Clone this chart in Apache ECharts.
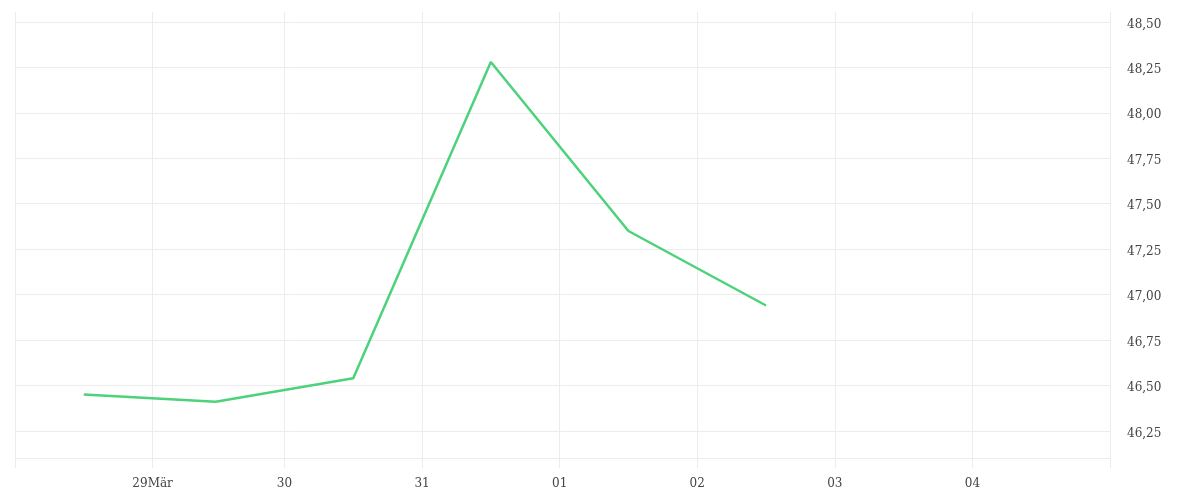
<!DOCTYPE html>
<html>
<head>
<meta charset="utf-8">
<script src="https://cdn.jsdelivr.net/npm/echarts@6/dist/echarts.min.js"></script>
<style>
  html, body { margin: 0; padding: 0; background: #fff; }
  #main { width: 1200px; height: 500px; }
</style>
</head>
<body>
<div id="main"></div>
<script>
// times are local (Europe/Berlin), DST starts 29 Mar 2020
var times = [
    '2020-03-28T12:00:00+01:00',
    '2020-03-29T12:00:00+02:00',
    '2020-03-30T12:00:00+02:00',
    '2020-03-31T12:00:00+02:00',
    '2020-04-01T12:00:00+02:00',
    '2020-04-02T12:00:00+02:00'
];
var prices = [46.45, 46.41, 46.54, 48.28, 47.35, 46.94];

var xStart = '2020-03-28T00:00:00+01:00';
var xEnd = '2020-04-05T00:00:00+02:00';
var xTickTimes = [
    '2020-03-28T00:00:00+01:00',
    '2020-03-29T00:00:00+01:00',
    '2020-03-30T00:00:00+02:00',
    '2020-03-31T00:00:00+02:00',
    '2020-04-01T00:00:00+02:00',
    '2020-04-02T00:00:00+02:00',
    '2020-04-03T00:00:00+02:00',
    '2020-04-04T00:00:00+02:00',
    '2020-04-05T00:00:00+02:00'
];
var xTickLabels = ['', '29Mär', '30', '31', '01', '02', '03', '04', ''];

var yGridValues = [46.1, 46.25, 46.5, 46.75, 47, 47.25, 47.5, 47.75, 48, 48.25, 48.5];
var yLabelValues = [46.25, 46.5, 46.75, 47, 47.25, 47.5, 47.75, 48, 48.25, 48.5];

var tickMs = xTickTimes.map(function (t) { return Date.parse(t); });
var points = times.map(function (t, i) { return [Date.parse(t), prices[i]]; });

var myChart = echarts.init(document.getElementById('main'));
myChart.setOption({
    animation: false,
    textStyle: { fontFamily: 'DejaVu Serif' },
    grid: { left: 15, right: 90, top: 12, bottom: 32 },
    xAxis: {
        type: 'value',
        min: Date.parse(xStart),
        max: Date.parse(xEnd),
        axisLine: { show: false },
        axisTick: { show: false, customValues: tickMs },
        splitLine: { show: true, lineStyle: { color: '#ececec', width: 1 } },
        axisLabel: {
            margin: 10,
            fontSize: 12,
            color: '#444',
            customValues: tickMs,
            formatter: function (v) {
                var i = tickMs.indexOf(v);
                return i < 0 ? '' : xTickLabels[i];
            }
        }
    },
    yAxis: {
        type: 'value',
        position: 'right',
        min: 46.046,
        max: 48.555,
        axisLine: { show: false },
        axisTick: { show: false, customValues: yGridValues },
        splitLine: { show: true, lineStyle: { color: '#ececec', width: 1 } },
        axisLabel: {
            margin: 17,
            fontSize: 12,
            color: '#444',
            verticalAlign: 'top',
            lineHeight: 5,
            customValues: yLabelValues,
            formatter: function (v) { return v.toFixed(2).replace('.', ','); }
        }
    },
    series: [{
        type: 'line',
        data: points,
        showSymbol: false,
        lineStyle: { color: '#4cd27a', width: 2.5 },
        itemStyle: { color: '#4cd27a' }
    }]
});
</script>
</body>
</html>
